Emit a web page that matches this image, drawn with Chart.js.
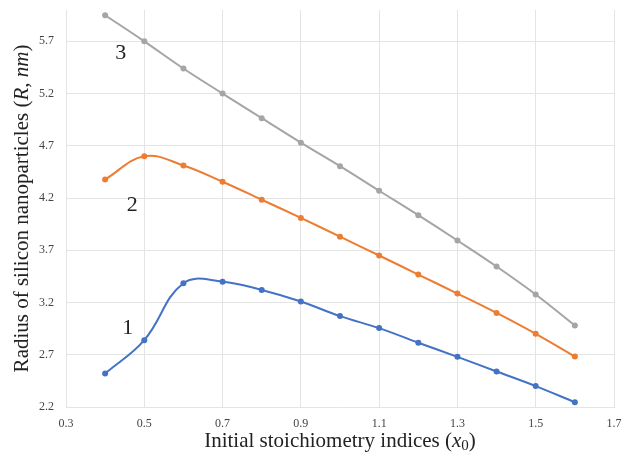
<!DOCTYPE html>
<html>
<head>
<meta charset="utf-8">
<script src="https://cdn.jsdelivr.net/npm/chart.js@4"></script>
<style>
  html, body { margin: 0; padding: 0; background: #fff; }
  #wrap { width: 630px; height: 456px; }
</style>
</head>
<body>
<div id="wrap"><canvas id="chart" width="630" height="456"></canvas></div>
<script>
// data
const xValues = [0.4, 0.5, 0.6, 0.7, 0.8, 0.9, 1.0, 1.1, 1.2, 1.3, 1.4, 1.5, 1.6];
const curve1 = [2.52, 2.84, 3.385, 3.40, 3.32, 3.21, 3.07, 2.955, 2.815, 2.68, 2.54, 2.40, 2.245];
const curve2 = [4.378, 4.60, 4.512, 4.356, 4.184, 4.01, 3.83, 3.65, 3.468, 3.286, 3.10, 2.90, 2.683];
const curve3 = [5.95, 5.70, 5.44, 5.20, 4.965, 4.73, 4.505, 4.27, 4.036, 3.794, 3.545, 3.277, 2.98];
const xTicks = [0.3, 0.5, 0.7, 0.9, 1.1, 1.3, 1.5, 1.7];
const yTicks = [2.2, 2.7, 3.2, 3.7, 4.2, 4.7, 5.2, 5.7];
const curveNames = ['1', '2', '3'];
const curveLabelX = [0.458, 0.469, 0.44];
const curveLabelY = [2.957, 4.13, 5.585];

const serif = '"Liberation Serif", "DejaVu Serif", serif';
const gridColor = '#e4e4e4';

function toPoints(ys) {
    return ys.map((y, i) => ({ x: xValues[i], y: y }));
}

function series(label, ys, color) {
    return {
        label: label,
        data: toPoints(ys),
        borderColor: color,
        backgroundColor: color,
        borderWidth: 2,
        pointRadius: 3,
        pointBorderWidth: 0,
        tension: 0.4,
        fill: false
    };
}

// draws a line of text made of plain / italic / subscript pieces
function drawParts(ctx, parts, size) {
    let total = 0;
    const widths = parts.map(p => {
        ctx.font = (p.italic ? 'italic ' : '') + Math.round(p.sub ? size * 0.7 : size) + 'px ' + serif;
        const w = ctx.measureText(p.t).width;
        total += w;
        return w;
    });
    let x = -total / 2;
    parts.forEach((p, i) => {
        ctx.font = (p.italic ? 'italic ' : '') + Math.round(p.sub ? size * 0.7 : size) + 'px ' + serif;
        ctx.fillText(p.t, x, p.sub ? size * 0.25 : 0);
        x += widths[i];
    });
}

const labelsPlugin = {
    id: 'labelsPlugin',
    afterDraw(chart) {
        const ctx = chart.ctx;
        const xs = chart.scales.x;
        const ys = chart.scales.y;
        const area = chart.chartArea;
        ctx.save();
        ctx.fillStyle = '#222';
        ctx.textBaseline = 'middle';
        ctx.textAlign = 'left';

        // curve numbers
        ctx.font = '22px ' + serif;
        ctx.textAlign = 'center';
        curveNames.forEach((n, i) => {
            ctx.fillText(n, xs.getPixelForValue(curveLabelX[i]), ys.getPixelForValue(curveLabelY[i]));
        });
        ctx.textAlign = 'left';

        // x axis title
        ctx.save();
        ctx.translate((area.left + area.right) / 2, 441);
        drawParts(ctx, [
            { t: 'Initial stoichiometry indices (' },
            { t: 'x', italic: true },
            { t: '0', sub: true },
            { t: ')' }
        ], 21);
        ctx.restore();

        // y axis title
        ctx.save();
        ctx.translate(22, (area.top + area.bottom) / 2);
        ctx.rotate(-Math.PI / 2);
        drawParts(ctx, [
            { t: 'Radius of silicon nanoparticles (' },
            { t: 'R', italic: true },
            { t: ', ' },
            { t: 'nm', italic: true },
            { t: ')' }
        ], 21);
        ctx.restore();

        ctx.restore();
    }
};

new Chart(document.getElementById('chart'), {
    type: 'line',
    data: {
        datasets: [
            series('1', curve1, '#4472C4'),
            series('2', curve2, '#ED7D31'),
            series('3', curve3, '#A5A5A5')
        ]
    },
    options: {
        responsive: false,
        animation: false,
        layout: { padding: { top: 10, right: 16, bottom: 0, left: 0 } },
        plugins: {
            legend: { display: false },
            tooltip: { enabled: false }
        },
        scales: {
            x: {
                type: 'linear',
                min: 0.3,
                max: 1.7,
                afterBuildTicks: axis => { axis.ticks = xTicks.map(v => ({ value: v })); },
                afterFit: axis => {
                    axis.height = 49;
                    axis.paddingLeft = 0;
                    axis.paddingRight = 0;
                },
                grid: { color: gridColor, drawTicks: false },
                border: { color: gridColor },
                ticks: {
                    padding: 10,
                    color: '#444',
                    font: { family: serif, size: 12 },
                    callback: v => v.toFixed(1)
                }
            },
            y: {
                type: 'linear',
                min: 2.2,
                max: 6.0,
                afterBuildTicks: axis => { axis.ticks = yTicks.map(v => ({ value: v })); },
                afterFit: axis => {
                    axis.width = 66;
                    axis.paddingTop = 0;
                    axis.paddingBottom = 0;
                },
                grid: { color: gridColor, drawTicks: false },
                border: { color: gridColor },
                ticks: {
                    padding: 12,
                    color: '#444',
                    font: { family: serif, size: 12 },
                    callback: v => v.toFixed(1)
                }
            }
        }
    },
    plugins: [labelsPlugin]
});
</script>
</body>
</html>
